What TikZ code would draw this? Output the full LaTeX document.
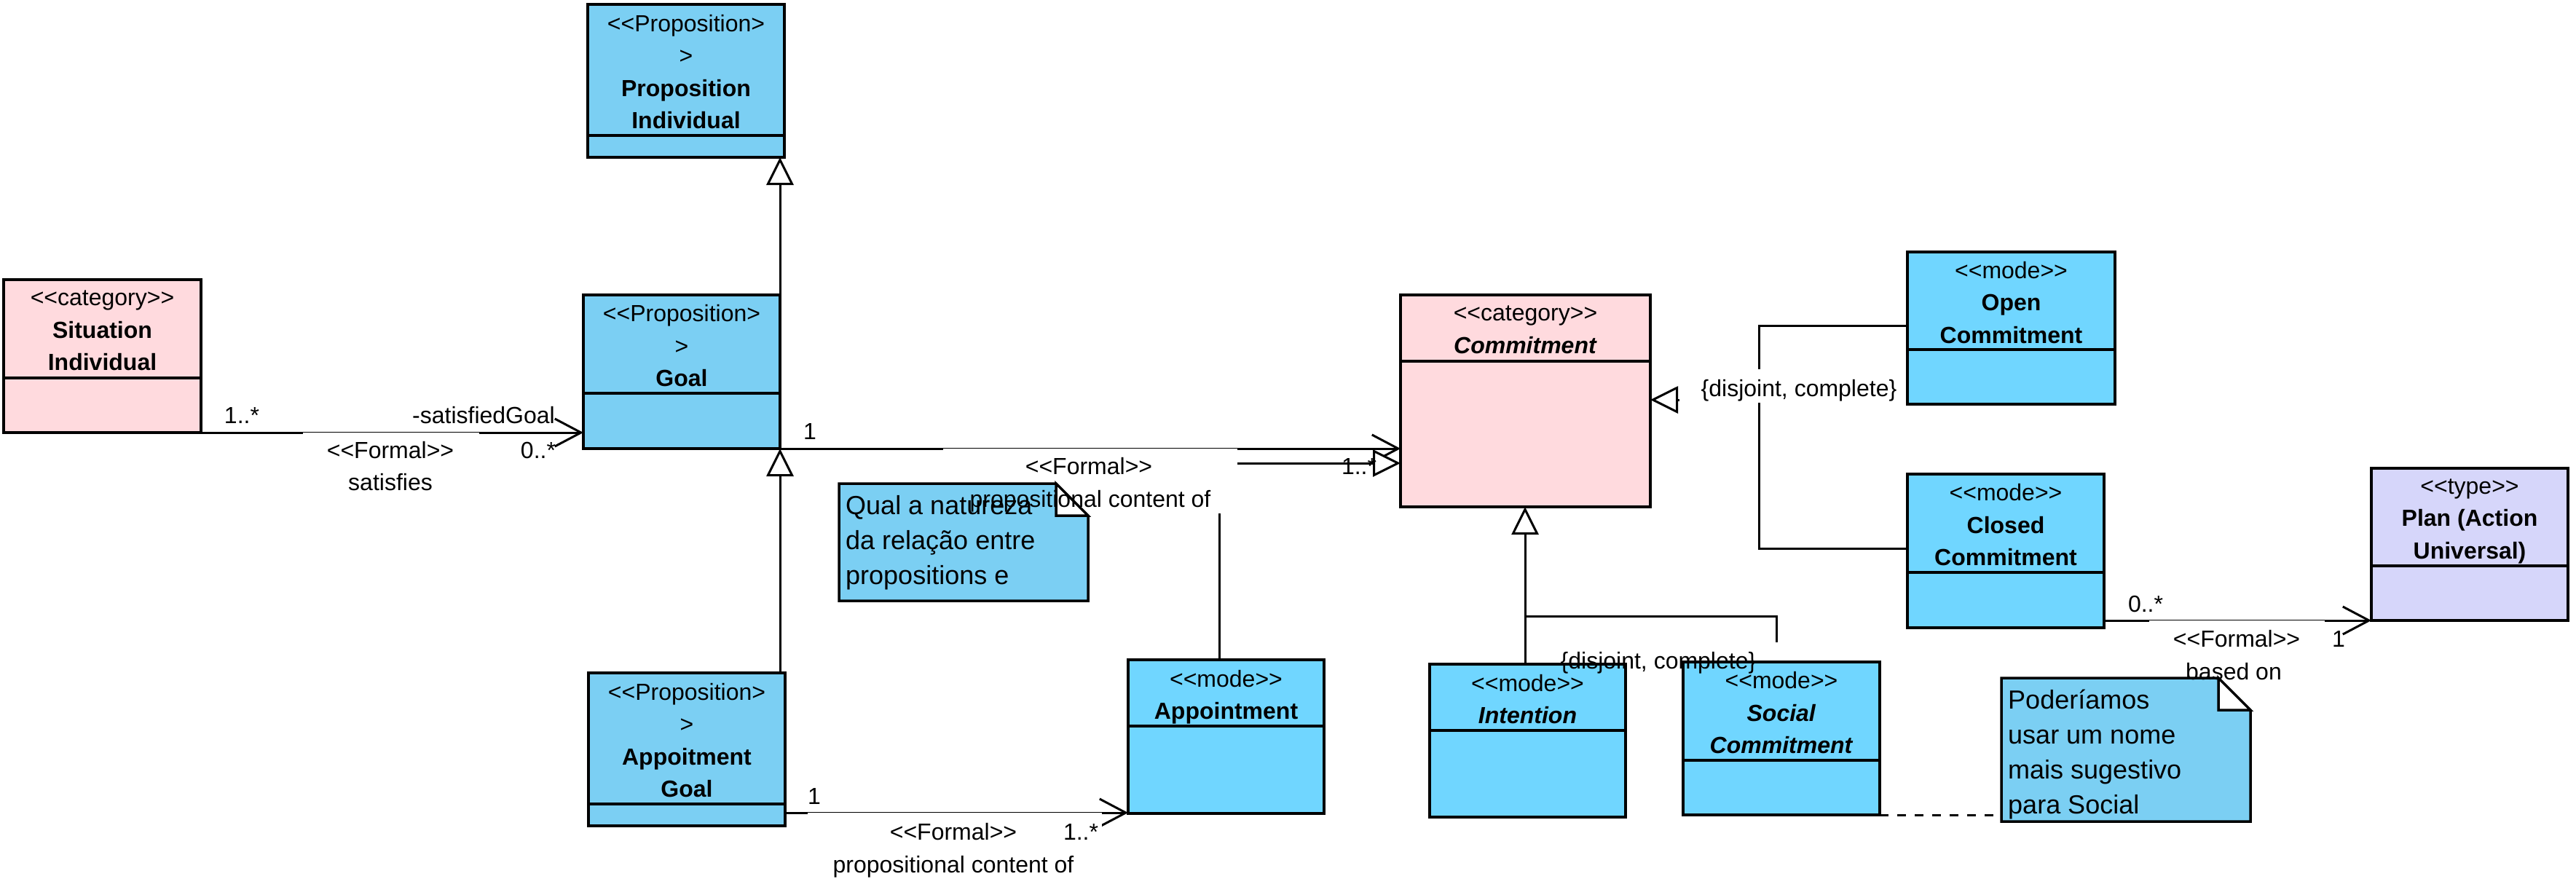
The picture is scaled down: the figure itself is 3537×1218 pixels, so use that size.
\documentclass[tikz,border=0pt]{standalone}
\usepackage{fontspec}
\newfontfamily\umlfont{Liberation Sans}
\usetikzlibrary{arrows.meta,calc}

\definecolor{propblue}{HTML}{7BCFF3}
\definecolor{modeblue}{HTML}{70D6FF}
\definecolor{catpink}{HTML}{FFDADE}
\definecolor{typelav}{HTML}{D6D6FA}
\definecolor{noteblue}{HTML}{7BCFF3}

\pgfdeclarelayer{conn}
\pgfdeclarelayer{mask}
\pgfdeclarelayer{front}
\pgfsetlayers{conn,mask,main,front}

\tikzset{
  classframe/.style={draw=black, line width=4pt, inner sep=0pt, outer sep=0pt, rectangle},
  classtext/.style={align=center, inner sep=0pt, font=\umlfont\fontsize{32}{44.5}\selectfont,
    execute at begin node=\strut, execute at end node=\strut},
  lbl/.style={inner sep=0pt, anchor=base, font=\umlfont\fontsize{32}{38}\selectfont},
  conn/.style={draw=black, line width=3pt},
  assoc/.style={conn, -{Straight Barb[length=36pt,width=38pt]}},
  gen/.style={conn, -{Triangle[open,fill=white,length=38pt,width=37pt]}},
  notetext/.style={align=left, inner sep=0pt, anchor=north west,
    font=\umlfont\fontsize{36}{48}\selectfont,
    execute at begin node=\strut, execute at end node=\strut},
}

% class box: name, x1, y1, x2, y2, compartment line y, fill, header text
\newcommand\umlclass[8]{%
  \node[classframe, fill=#7, anchor=north west,
        minimum width={(#4-#2)*1pt}, minimum height={(#5-#3)*1pt}] (#1) at (#2,#3) {};
  \draw[line width=4pt] (#2,#6) -- (#4,#6);
  \node[classtext] (#1-t) at ({(#2+#4)/2},{(#3+#6)/2+9}) {#8};
}

% note with folded corner: name, x1, y1, x2, y2, text
\newcommand\umlnote[6]{%
  \node[inner sep=0pt, outer sep=0pt, anchor=north west,
        minimum width={(#4-#2)*1pt}, minimum height={(#5-#3)*1pt}] (#1) at (#2,#3) {};
  \filldraw[fill=noteblue, line width=3.5pt]
    (#2,#3) -- ({#4-44},#3) -- (#4,{#3+44}) -- (#4,#5) -- (#2,#5) -- cycle;
  \filldraw[fill=white, line width=3.5pt]
    ({#4-44},#3) -- ({#4-44},{#3+44}) -- (#4,{#3+44}) -- cycle;
  \node[notetext] (#1-t) at ({#2+9},{#3+16}) {#6};
}

\begin{document}
\begin{tikzpicture}[x=1pt,y=-1pt]
\useasboundingbox (0,0) rectangle (3537,1218);

% ---------- classes ----------
\umlclass{propind}{807}{6}{1077}{216}{186}{propblue}
  {<<Proposition>\\>\\\textbf{Proposition}\\\textbf{Individual}}
\umlclass{situation}{5}{384}{276}{594}{519}{catpink}
  {<<category>>\\\textbf{Situation}\\\textbf{Individual}}
\umlclass{goal}{801}{405}{1071}{616}{540}{propblue}
  {<<Proposition>\\>\\\textbf{Goal}}
\umlclass{apgoal}{808}{924}{1078}{1134}{1104}{propblue}
  {<<Proposition>\\>\\\textbf{Appoitment}\\\textbf{Goal}}
\umlclass{appt}{1549}{906}{1818}{1117}{997}{modeblue}
  {<<mode>>\\\textbf{Appointment}}
\umlclass{commit}{1923}{405}{2266}{696}{496}{catpink}
  {<<category>>\\\textbf{\textit{Commitment}}}
\umlclass{open}{2619}{346}{2904}{555}{480}{modeblue}
  {<<mode>>\\\textbf{Open}\\\textbf{Commitment}}
\umlclass{closed}{2619}{651}{2889}{862}{786}{modeblue}
  {<<mode>>\\\textbf{Closed}\\\textbf{Commitment}}
\umlclass{plan}{3256}{643}{3526}{852}{777}{typelav}
  {<<type>>\\\textbf{Plan (Action}\\\textbf{Universal)}}
\umlclass{intent}{1963}{912}{2232}{1122}{1003}{modeblue}
  {<<mode>>\\\textbf{\textit{Intention}}}
\umlclass{social}{2311}{909}{2581}{1119}{1044}{modeblue}
  {<<mode>>\\\textbf{\textit{Social}}\\\textbf{\textit{Commitment}}}

% ---------- notes ----------
\umlnote{n1}{1152}{664}{1494}{825}
  {Qual a natureza\\da relação entre\\propositions e}
\umlnote{n2}{2748}{931}{3090}{1128}
  {Poderíamos\\usar um nome\\mais sugestivo\\para Social}

% junctions of the generalization sets
\coordinate (j1) at (2415,549);
\coordinate (j2) at (2094,846);

% ---------- connectors ----------
\begin{pgfonlayer}{conn}
  \fill[white] (0,0) rectangle (3537,1218);
  % associations
  \draw[assoc] (situation.south east) -- (goal.west |- situation.south east);
  \draw[assoc] (goal.south east) -- (commit.west |- goal.south east);
  \draw[assoc] (apgoal.east |- 0,1116) -- (appt.west |- 0,1116);
  \draw[assoc] (closed.east |- 0,852) -- (plan.south west);
  % generalizations
  \draw[gen] (goal.north east) -- (goal.north east |- propind.south);
  \draw[gen] (1071,0 |- apgoal.north) -- (goal.south east);
  \draw[gen] (1674,0 |- appt.north) |- (commit.west |- 0,636);
  \draw[gen] (j2 |- intent.north) -- (commit.south -| j2);
  \draw[conn] (2439,0 |- social.north) |- (j2);
  \draw[conn] (open.west |- 0,447) -| (j1);
  \draw[conn] (closed.west |- 0,753) -| (j1);
  \draw[gen] (j1) -- (commit.east |- j1);
  % note anchor
  \draw[conn, dash pattern=on 12pt off 12pt] (social.south east) -- (n2.west |- social.south east);
\end{pgfonlayer}

% ---------- label backgrounds ----------
\begin{pgfonlayer}{mask}
  \fill[white] (416,594) rectangle (658,680);
  \fill[white] (1295,616) rectangle (1699,705);
  \fill[white] (1109,1116) rectangle (1513,1210);
  \fill[white] (2951,852) rectangle (3192,945);
  \fill[white] (2306,507) rectangle (2612,553);
  \fill[white] (2135,882) rectangle (2450,935);
\end{pgfonlayer}

% ---------- labels ----------
\begin{pgfonlayer}{front}
  \node[lbl] (a1) at (332,581) {1..*};
  \node[lbl] (a2) at (664,581) {-satisfiedGoal};
  \node[lbl] (a3) at (536,629) {<<Formal>>};
  \node[lbl] (a4) at (739,629) {0..*};
  \node[lbl] (a5) at (536,673) {satisfies};

  \node[lbl] (b1) at (1112,603) {1};
  \node[lbl] (b2) at (1495,651) {<<Formal>>};
  \node[lbl] (b3) at (1497,696) {propositional content of};
  \node[lbl] (b4) at (1866,651) {1..*};

  \node[lbl] (d1) at (1118,1104) {1};
  \node[lbl] (d2) at (1309,1153) {<<Formal>>};
  \node[lbl] (d3) at (1484,1153) {1..*};
  \node[lbl] (d4) at (1309,1198) {propositional content of};

  \node[lbl] (g1) at (2277,918) {\{disjoint, complete\}};
  \node[lbl] (h1) at (2470,544) {\{disjoint, complete\}};

  \node[lbl] (i1) at (2946,840) {0..*};
  \node[lbl] (i2) at (3071,888) {<<Formal>>};
  \node[lbl] (i3) at (3211,888) {1};
  \node[lbl] (i4) at (3067,933) {based on};
\end{pgfonlayer}
\end{tikzpicture}
\end{document}
